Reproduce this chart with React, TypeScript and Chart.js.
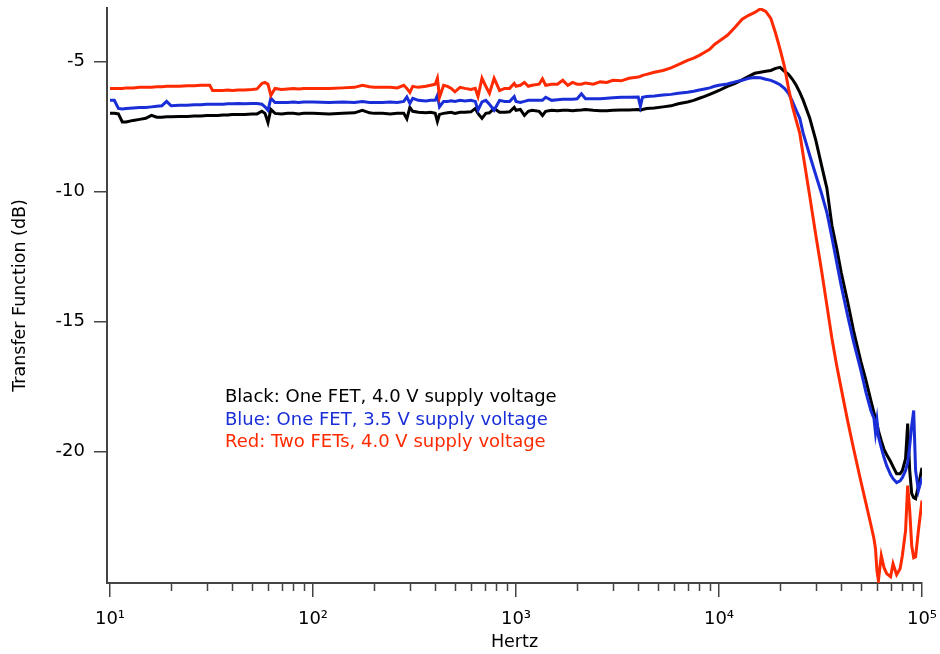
import React, { useEffect, useRef } from 'react';
import { Chart, registerables } from 'chart.js';

Chart.register(...registerables);

// Frequency (Hz) of each sample, shared by the three traces
const freqHz = [
  10, 10.5, 11, 11.5, 12, 13, 14, 15, 16, 17, 18, 19, 20, 22, 24, 26, 28, 30, 31, 32, 34, 36, 38, 40, 43, 46, 50, 53, 56, 58, 60, 62, 65, 70, 75, 80, 85, 90, 95,
  100, 120, 140, 160, 175, 190, 200, 220, 240, 260, 280, 290, 300, 310, 330, 360, 380, 400, 410, 420, 440, 460, 480, 500, 530, 560, 600, 630, 650, 680, 710, 740, 780, 830, 880, 930, 980,
  1000, 1050, 1100, 1150, 1200, 1300, 1350, 1400, 1500, 1600, 1700, 1800, 1900, 2000, 2100, 2200, 2400, 2600, 2800, 3000, 3300, 3600, 4000, 4100, 4200, 4400, 4800, 5300, 5800, 6300, 7000, 7500, 8000, 8500, 9000, 9500,
  10000, 11000, 12000, 13000, 14000, 15000, 16000, 17000, 18000, 19000, 20000, 21000, 22000, 23000, 24000, 25000, 26000, 28000, 30000, 32000, 34000, 36000, 38000, 40000, 43000, 46000, 50000, 53000, 56000, 58000, 59000, 60000, 61000, 63000, 65000, 67000, 70000, 72000, 75000, 78000, 80000, 83000, 85000, 87000, 89000, 91000, 93000, 96000, 100000,
];

// Black: One FET, 4.0 V supply voltage (dB)
const blackOneFet40V = [
  -7.00, -7.00, -7.02, -7.33, -7.33, -7.27, -7.23, -7.19, -7.08, -7.15, -7.15, -7.13, -7.13, -7.12, -7.12, -7.10, -7.10, -7.08, -7.08, -7.08, -7.08, -7.06, -7.06, -7.04, -7.04, -7.04, -7.02, -7.02, -6.92, -7.00, -7.35, -6.85, -7.00, -7.02, -7.00, -7.00, -7.02, -7.00, -7.00,
  -7.00, -7.02, -7.00, -6.98, -6.88, -6.98, -7.00, -7.00, -7.02, -7.00, -7.00, -7.21, -6.77, -6.92, -6.96, -6.98, -6.96, -7.00, -7.31, -7.04, -7.00, -6.98, -6.96, -7.00, -6.96, -6.96, -6.94, -6.81, -7.00, -7.19, -7.00, -6.98, -6.81, -6.96, -6.96, -6.94, -6.77,
  -6.88, -6.85, -7.08, -6.92, -6.88, -6.92, -7.08, -6.92, -6.88, -6.90, -6.88, -6.88, -6.90, -6.88, -6.87, -6.85, -6.88, -6.90, -6.90, -6.88, -6.87, -6.87, -6.85, -6.88, -6.85, -6.81, -6.79, -6.75, -6.71, -6.63, -6.56, -6.50, -6.42, -6.35, -6.27, -6.19,
  -6.12, -5.96, -5.85, -5.71, -5.58, -5.46, -5.42, -5.38, -5.35, -5.27, -5.23, -5.38, -5.50, -5.69, -5.92, -6.19, -6.50, -7.19, -8.04, -9.00, -9.88, -11.31, -12.19, -13.12, -14.23, -15.35, -16.54, -17.27, -18.04, -18.50, -18.73, -18.92, -19.19, -19.58, -19.92, -20.12, -20.38, -20.58, -20.85, -20.85, -20.73, -20.27, -18.92, -20.73, -21.62, -21.77, -21.81, -21.31, -20.62,
];

// Blue: One FET, 3.5 V supply voltage (dB)
const blueOneFet35V = [
  -6.50, -6.50, -6.81, -6.83, -6.81, -6.79, -6.77, -6.77, -6.75, -6.73, -6.71, -6.54, -6.71, -6.69, -6.69, -6.67, -6.67, -6.65, -6.65, -6.65, -6.65, -6.65, -6.63, -6.63, -6.62, -6.63, -6.62, -6.62, -6.65, -6.75, -6.88, -6.42, -6.58, -6.58, -6.58, -6.56, -6.58, -6.56, -6.56,
  -6.56, -6.58, -6.56, -6.58, -6.54, -6.58, -6.58, -6.58, -6.56, -6.58, -6.54, -6.37, -6.62, -6.42, -6.50, -6.52, -6.50, -6.50, -6.31, -6.75, -6.54, -6.54, -6.52, -6.54, -6.50, -6.52, -6.50, -6.54, -6.88, -6.56, -6.50, -6.65, -6.88, -6.50, -6.54, -6.54, -6.35,
  -6.54, -6.58, -6.54, -6.50, -6.50, -6.50, -6.50, -6.38, -6.50, -6.48, -6.46, -6.46, -6.46, -6.44, -6.25, -6.44, -6.44, -6.44, -6.42, -6.40, -6.38, -6.38, -6.37, -6.73, -6.38, -6.35, -6.33, -6.29, -6.27, -6.23, -6.19, -6.15, -6.10, -6.06, -6.02, -5.96,
  -5.92, -5.87, -5.79, -5.73, -5.65, -5.62, -5.63, -5.69, -5.73, -5.81, -5.90, -6.04, -6.23, -6.54, -6.88, -7.19, -7.77, -8.62, -9.38, -10.08, -10.81, -11.77, -12.73, -13.62, -14.77, -15.77, -16.88, -17.73, -18.42, -18.73, -19.27, -18.81, -19.42, -19.85, -20.23, -20.54, -20.88, -21.04, -21.19, -21.12, -21.00, -20.73, -20.42, -19.77, -19.00, -18.42, -20.73, -21.50, -21.00,
];

// Red: Two FETs, 4.0 V supply voltage (dB)
const redTwoFets40V = [
  -6.04, -6.04, -6.04, -6.04, -6.02, -6.02, -6.00, -6.00, -6.00, -5.98, -5.98, -5.96, -5.96, -5.96, -5.94, -5.94, -5.92, -5.92, -5.92, -6.12, -6.12, -6.12, -6.10, -6.12, -6.10, -6.10, -6.08, -6.06, -5.85, -5.81, -5.88, -6.31, -6.04, -6.08, -6.06, -6.04, -6.06, -6.04, -6.04,
  -6.04, -6.04, -6.02, -6.00, -5.92, -5.98, -6.00, -6.00, -6.00, -6.02, -5.92, -6.04, -6.19, -5.96, -6.00, -5.96, -5.92, -5.88, -5.65, -6.38, -5.92, -5.96, -6.04, -6.17, -6.00, -6.04, -6.08, -6.04, -6.35, -5.65, -5.96, -6.23, -5.65, -6.12, -6.04, -6.04, -5.85,
  -5.96, -5.92, -5.81, -5.96, -5.92, -5.88, -5.67, -5.92, -5.88, -5.88, -5.73, -5.92, -5.81, -5.88, -5.88, -5.83, -5.88, -5.79, -5.81, -5.73, -5.75, -5.65, -5.60, -5.58, -5.54, -5.50, -5.42, -5.35, -5.25, -5.13, -4.96, -4.88, -4.77, -4.65, -4.54, -4.35,
  -4.23, -4.00, -3.69, -3.38, -3.23, -3.12, -2.98, -3.08, -3.35, -3.92, -4.54, -5.19, -6.04, -6.73, -7.27, -7.77, -8.62, -10.19, -11.69, -13.04, -14.38, -15.65, -16.69, -17.58, -18.81, -19.88, -21.15, -22.00, -22.81, -23.35, -23.73, -24.58, -24.96, -24.00, -24.46, -24.69, -24.81, -24.31, -24.73, -24.50, -24.00, -23.04, -21.31, -22.27, -23.62, -24.08, -24.04, -23.04, -21.88,
];

const seriesColors = ['#000000', '#1a2ed8', '#ff2a00'];
const legendLabels = [
  'Black: One FET, 4.0 V supply voltage',
  'Blue: One FET, 3.5 V supply voltage',
  'Red: Two FETs, 4.0 V supply voltage',
];

const xTickValues = [10, 100, 1000, 10000, 100000];
const xTickLabels = ['10\u00b9', '10\u00b2', '10\u00b3', '10\u2074', '10\u2075'];
const yTickValues = [-20, -15, -10, -5];
const xTitle = 'Hertz';
const yTitle = 'Transfer Function (dB)';

const FONT = 'DejaVu Sans';
const AXIS_COLOR = '#444444';

const minorTicksPlugin = {
  id: 'minorTicks',
  afterDraw(chart: any) {
    const xs = chart.scales.x;
    const { ctx, chartArea } = chart;
    ctx.save();
    ctx.strokeStyle = AXIS_COLOR;
    ctx.lineWidth = 1.5;
    for (let d = 10; d < 100000; d *= 10) {
      for (let m = 2; m <= 9; m++) {
        const px = Math.round(xs.getPixelForValue(d * m)) + 0.5;
        ctx.beginPath();
        ctx.moveTo(px, chartArea.bottom);
        ctx.lineTo(px, chartArea.bottom + 8);
        ctx.stroke();
      }
    }
    ctx.restore();
  },
};

const textLegendPlugin = {
  id: 'textLegend',
  afterDraw(chart: any) {
    const { ctx } = chart;
    ctx.save();
    ctx.font = `18px "${FONT}"`;
    ctx.textAlign = 'left';
    ctx.textBaseline = 'alphabetic';
    const baselines = [402, 424.5, 447];
    legendLabels.forEach((t, i) => {
      ctx.fillStyle = seriesColors[i];
      ctx.fillText(t, 225, baselines[i]);
    });
    ctx.restore();
  },
};

export default function App() {
  const canvasRef = useRef<HTMLCanvasElement | null>(null);

  useEffect(() => {
    if (!canvasRef.current) return;
    const series = [blackOneFet40V, blueOneFet35V, redTwoFets40V];
    const chart = new Chart(canvasRef.current, {
      type: 'line',
      data: {
        datasets: series.map((vals, si) => ({
          label: legendLabels[si],
          data: freqHz.map((f, i) => ({ x: f, y: vals[i] })),
          borderColor: seriesColors[si],
          backgroundColor: seriesColors[si],
          borderWidth: 3,
          pointRadius: 0,
          tension: 0,
          fill: false,
          order: 3 - si,
        })),
      },
      options: {
        animation: false,
        responsive: false,
        devicePixelRatio: 1,
        layout: { padding: { top: 8, right: 18, left: 0, bottom: 0 } },
        plugins: {
          legend: { display: false },
          tooltip: { enabled: false },
        },
        scales: {
          x: {
            type: 'logarithmic',
            min: 9.665,
            max: 100000,
            afterBuildTicks: (scale: any) => {
              scale.ticks = xTickValues.map((v) => ({ value: v, major: true }));
            },
            afterFit: (scale: any) => {
              scale.height = 71;
              scale.paddingLeft = 0;
              scale.paddingRight = 0;
              scale.paddingTop = 0;
              scale.paddingBottom = 0;
            },
            grid: {
              display: true,
              drawOnChartArea: false,
              drawTicks: true,
              tickLength: 14,
              color: AXIS_COLOR,
              lineWidth: 1.5,
            },
            border: { display: true, color: AXIS_COLOR, width: 2 },
            ticks: {
              autoSkip: false,
              maxRotation: 0,
              padding: 12,
              color: '#000',
              font: { family: FONT, size: 18 },
              callback: (value: any) => {
                const idx = xTickValues.indexOf(Number(value));
                return idx >= 0 ? xTickLabels[idx] : '';
              },
            },
            title: {
              display: true,
              text: xTitle,
              color: '#000',
              font: { family: FONT, size: 17.5 },
              padding: { top: 0, bottom: 1 },
            },
          },
          y: {
            type: 'linear',
            min: -25.05,
            max: -2.95,
            afterBuildTicks: (scale: any) => {
              scale.ticks = yTickValues.map((v) => ({ value: v }));
            },
            afterFit: (scale: any) => {
              scale.width = 107;
              scale.paddingLeft = 0;
              scale.paddingRight = 0;
              scale.paddingTop = 0;
              scale.paddingBottom = 0;
            },
            grid: {
              display: true,
              drawOnChartArea: false,
              drawTicks: true,
              tickLength: 13,
              color: AXIS_COLOR,
              lineWidth: 1.5,
            },
            border: { display: true, color: AXIS_COLOR, width: 2 },
            ticks: {
              padding: 9,
              color: '#000',
              font: { family: FONT, size: 18 },
              callback: (value: any) => String(value),
            },
            title: {
              display: true,
              text: yTitle,
              color: '#000',
              font: { family: FONT, size: 17.5 },
              padding: { top: 10, bottom: 0 },
            },
          },
        },
      },
      plugins: [minorTicksPlugin, textLegendPlugin],
    });
    return () => chart.destroy();
  }, []);

  return (
    <div style={{ position: 'fixed', left: 0, top: 0, width: 940, height: 654, background: '#fff' }}>
      <canvas ref={canvasRef} width={940} height={654} />
    </div>
  );
}
